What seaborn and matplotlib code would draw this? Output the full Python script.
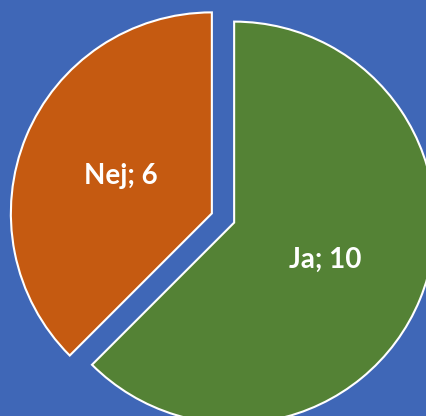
import numpy as np
import pandas as pd
import matplotlib
matplotlib.use("Agg")
import matplotlib.pyplot as plt
import seaborn as sns

# data
categories = ["Ja", "Nej"]
counts = [10, 6]
colors = ["#548235", "#C55A11"]
bg = "#3F67B7"

df = pd.DataFrame({"svar": categories, "antal": counts})

sns.set_style("white")
plt.rcParams["font.family"] = ["Lato", "DejaVu Sans"]

fig = plt.figure(figsize=(4.27, 4.16), dpi=100, facecolor=bg)
ax = fig.add_axes([0, 0, 1, 1])
ax.set_facecolor(bg)

labels = [f"{s}; {a}" for s, a in zip(df["svar"], df["antal"])]
ax.pie(df["antal"], labels=labels, colors=colors, startangle=90,
       counterclock=False, explode=[0.06, 0.06], labeldistance=0.49,
       wedgeprops=dict(edgecolor="white", linewidth=1.5),
       textprops=dict(color="white", fontsize=20, fontweight="bold",
                      ha="center", va="center"))

# pixel-matched limits (radius 1 = ~201 px)
r = 201
cx, cy = 223, 218
ax.set_xlim(-cx / r, (427 - cx) / r)
ax.set_ylim(-(416 - cy) / r, cy / r)
ax.set_aspect("auto")
ax.axis("off")

fig.savefig("out.png", dpi=100, facecolor=bg)
